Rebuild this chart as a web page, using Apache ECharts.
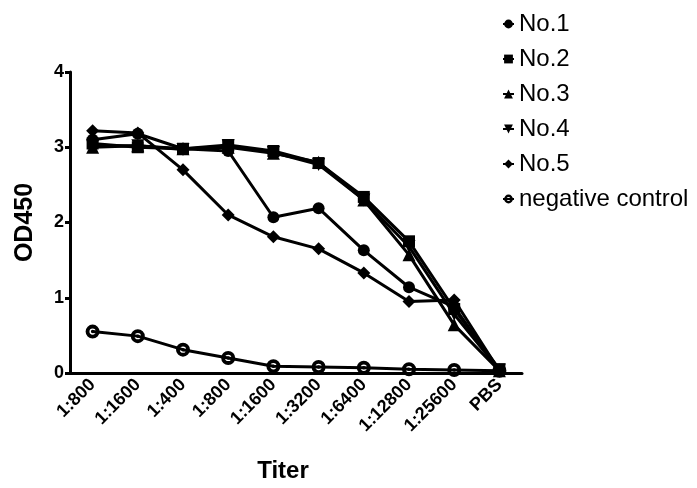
<!DOCTYPE html>
<html>
<head>
<meta charset="utf-8">
<script src="https://cdn.jsdelivr.net/npm/echarts@6/dist/echarts.min.js"></script>
<style>
  html, body { margin:0; padding:0; background:#fff; }
  #chart { width:697px; height:488px; }
</style>
</head>
<body>
<div id="chart"></div>
<script>
const titers = ['1:800','1:1600','1:400','1:800','1:1600','1:3200','1:6400','1:12800','1:25600','PBS'];
const yTicks = [0, 1, 2, 3, 4];

const no1 = [3.10, 3.18, 2.98, 2.95, 2.07, 2.19, 1.63, 1.14, 0.88, 0.03];
const no2 = [3.05, 3.00, 2.98, 3.03, 2.95, 2.79, 2.34, 1.75, 0.85, 0.05];
const no3 = [3.00, 3.02, 2.98, 3.00, 2.92, 2.80, 2.30, 1.57, 0.64, 0.03];
const no4 = [3.02, 3.02, 2.97, 3.02, 2.93, 2.77, 2.30, 1.68, 0.78, 0.04];
const no5 = [3.22, 3.19, 2.70, 2.10, 1.81, 1.65, 1.33, 0.95, 0.97, 0.03];
const negCtrl = [0.55, 0.49, 0.31, 0.20, 0.09, 0.08, 0.07, 0.05, 0.04, 0.03];

const FONT = '"Liberation Sans", Arial, sans-serif';
// black dot with a thin white ring inside (prism style "circle with dot")
const DOT_RING = 'path://M10,0 A10,10 0 1,1 10,20 A10,10 0 1,1 10,0 Z ' +
                 'M10,5.5 A4.5,4.5 0 1,0 10,14.5 A4.5,4.5 0 1,0 10,5.5 Z ' +
                 'M10,7.5 A2.5,2.5 0 1,1 10,12.5 A2.5,2.5 0 1,1 10,7.5 Z';
const chart = echarts.init(document.getElementById('chart'));

function line(name, data, symbol, size) {
    return {
        name, type:'line', data, symbol, symbolSize:size,
        lineStyle:{ color:'#000', width:3 },
        itemStyle:{ color:'#000' },
        emphasis:{ disabled:true },
        animation:false
    };
}

chart.setOption({
    backgroundColor:'#fff',
    grid:{ left:70, right:175, top:72, bottom:115, containLabel:false },
    legend:{
        orient:'vertical', left:497, top:7,
        itemWidth:11, itemHeight:11, itemGap:11, selectedMode:false,
        textStyle:{ fontFamily:FONT, fontSize:24, color:'#000', lineHeight:24 },
        data:['No.1','No.2','No.3','No.4','No.5','negative control']
    },
    xAxis:{
        type:'category', data:titers, boundaryGap:true,
        name:'Titer', nameLocation:'middle', nameGap:86,
        nameTextStyle:{ fontFamily:FONT, fontSize:24, fontWeight:'bold', color:'#000', padding:[0,26,0,0] },
        axisLine:{ lineStyle:{ color:'#000', width:3 } },
        axisTick:{ alignWithLabel:true, length:5, lineStyle:{ color:'#000', width:3 } },
        axisLabel:{ rotate:45, interval:0, margin:9, fontFamily:FONT, fontSize:18, fontWeight:'bold', color:'#000' }
    },
    yAxis:{
        type:'value', min:yTicks[0], max:yTicks[yTicks.length-1], interval:1,
        name:'OD450', nameLocation:'middle', nameGap:32, nameRotate:90,
        nameTextStyle:{ fontFamily:FONT, fontSize:25, fontWeight:'bold', color:'#000' },
        axisLine:{ show:true, lineStyle:{ color:'#000', width:3 } },
        axisTick:{ show:true, length:5, lineStyle:{ color:'#000', width:3 } },
        axisLabel:{ margin:6, fontFamily:FONT, fontSize:18, fontWeight:'bold', color:'#000' },
        splitLine:{ show:false }
    },
    series:[
        line('negative control', negCtrl, DOT_RING, 14),
        line('No.1', no1, 'circle', 12),
        line('No.2', no2, 'rect', 12),
        line('No.3', no3, 'triangle', 13),
        line('No.4', no4, 'path://M0,0 L10,0 L5,9 Z', 13),
        line('No.5', no5, 'diamond', 13)
    ]
});
</script>
</body>
</html>
